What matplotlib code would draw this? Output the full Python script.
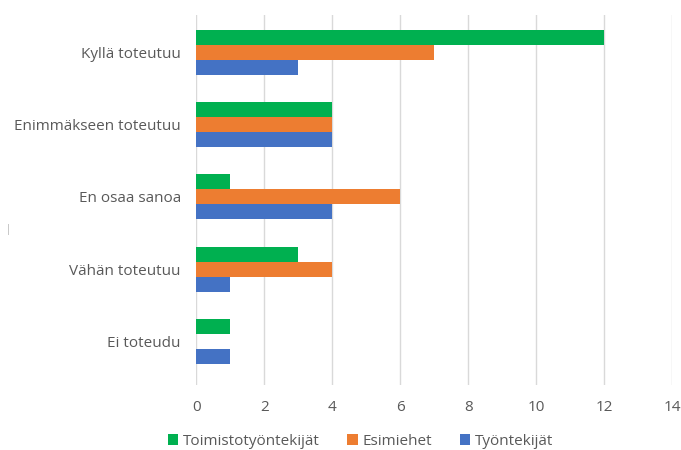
import matplotlib
matplotlib.use("Agg")
import matplotlib.pyplot as plt
import numpy as np

categories = ["Kyllä toteutuu", "Enimmäkseen toteutuu", "En osaa sanoa", "Vähän toteutuu", "Ei toteudu"]
series_names = ["Toimistotyöntekijät", "Esimiehet", "Työntekijät"]
toimisto = [12, 4, 1, 3, 1]
esimiehet = [7, 4, 6, 4, 0]
tyontekijat = [3, 4, 4, 1, 1]
colors = ["#00b050", "#ed7d31", "#4472c4"]
xticks = [0, 2, 4, 6, 8, 10, 12, 14]

plt.rcParams["font.family"] = ["Open Sans", "DejaVu Sans"]
text_color = "#595959"

fig = plt.figure(figsize=(6.81, 4.5), dpi=100)
ax = fig.add_axes([0.288, 0.145, 0.699, 0.822])

y = np.arange(len(categories))
h = 0.207
for i, (vals, name) in enumerate(zip([toimisto, esimiehet, tyontekijat], series_names)):
    ax.barh(y + (i - 1) * h, vals, height=h, color=colors[i], label=name, zorder=3)

ax.set_ylim(len(categories) - 0.4, -0.52)
ax.set_xlim(0, 14)
ax.set_xticks(xticks)
ax.set_yticks(y)
ax.set_yticklabels(categories)
ax.grid(axis="x", color="#d9d9d9", linewidth=1, zorder=0)
for s in ax.spines.values():
    s.set_visible(False)
ax.tick_params(axis="both", length=0, labelsize=11, colors=text_color)
ax.tick_params(axis="y", pad=11)
ax.tick_params(axis="x", pad=11)

fig.text(0.012, 0.49, "|", fontsize=7, color="#aaaaaa", ha="center", va="center")

ax.legend(loc="upper center", bbox_to_anchor=(0.345, -0.095), ncol=3, frameon=False,
          fontsize=11, handlelength=0.7, handleheight=0.7, handletextpad=0.3, columnspacing=1.8,
          labelcolor=text_color)

fig.savefig("out.png", dpi=100)
